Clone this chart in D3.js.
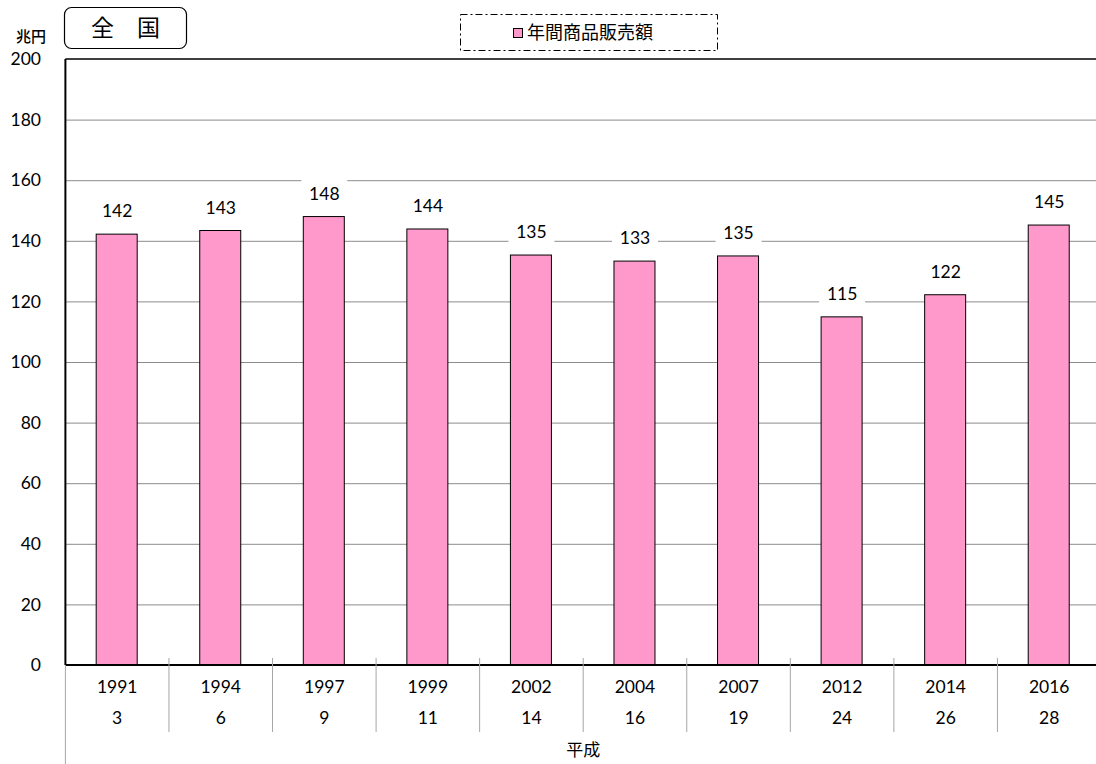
<!DOCTYPE html>
<html>
<head>
<meta charset="utf-8">
<title>年間商品販売額 全国</title>
<script src="https://cdn.jsdelivr.net/npm/d3@7"></script>
<style>
  body { margin: 0; background: #fff; }
  svg { display: block; }
  text { font-family: Lato, "Noto Sans", sans-serif; fill: #000; }
  .jp { font-family: "Noto Sans CJK JP", sans-serif; }
</style>
</head>
<body>
<script>
// data
const years = ["1991", "1994", "1997", "1999", "2002", "2004", "2007", "2012", "2014", "2016"];
const heisei = ["3", "6", "9", "11", "14", "16", "19", "24", "26", "28"];
const sales = [142.2, 143.4, 148.0, 143.9, 135.3, 133.3, 135.0, 114.9, 122.2, 145.2];
const yTicks = [0, 20, 40, 60, 80, 100, 120, 140, 160, 180, 200];

const width = 1096, height = 764;
const pLeft = 65.4, pRight = 1101, pTop = 59, pBottom = 665;
const numSize = 17.5;

const svg = d3.select("body").append("svg")
  .attr("width", width).attr("height", height);

const x = d3.scaleBand().domain(years).range([pLeft, pRight]);
const y = d3.scaleLinear().domain([0, 200]).range([pBottom, pTop]);

// gridlines
svg.append("g")
  .attr("transform", "translate(" + pLeft + ",0)")
  .call(d3.axisLeft(y).tickValues(yTicks.filter(d => d > 0 && d < 200)).tickSize(-(pRight - pLeft)).tickFormat(""))
  .call(g => g.select(".domain").remove())
  .call(g => g.selectAll("line").attr("stroke", "#8c8c8c").attr("stroke-width", 1));

// top border
svg.append("line")
  .attr("x1", pLeft).attr("x2", pRight).attr("y1", y(200)).attr("y2", y(200))
  .attr("stroke", "#000").attr("stroke-width", 1.5);

// y tick labels
svg.append("g")
  .selectAll("text").data(yTicks).enter().append("text")
  .attr("x", 41).attr("y", d => y(d)).attr("dy", "0.35em")
  .attr("text-anchor", "end").attr("font-size", numSize)
  .text(d => d);

svg.append("text").attr("class", "jp")
  .attr("x", 31).attr("y", 37).attr("dy", "0.35em").attr("text-anchor", "middle")
  .attr("font-size", 15).attr("font-weight", 500)
  .text("兆円");

// bars
const barW = 41;
svg.append("g").selectAll("rect").data(sales).enter().append("rect")
  .attr("x", (d, i) => x(years[i]) + x.bandwidth() / 2 - barW / 2 - 0.5)
  .attr("y", d => y(d))
  .attr("width", barW)
  .attr("height", d => y(0) - y(d))
  .attr("fill", "#ff99cc")
  .attr("stroke", "#000").attr("stroke-width", 1);

// data labels with white backgrounds
const lab = svg.append("g").selectAll("g").data(sales).enter().append("g")
  .attr("transform", (d, i) => "translate(" + (x(years[i]) + x.bandwidth() / 2) + "," + (y(d) - 23) + ")");
lab.append("rect")
  .attr("x", -23).attr("y", -15).attr("width", 46).attr("height", 27)
  .attr("fill", "#fff");
lab.append("text")
  .attr("text-anchor", "middle").attr("dy", "0.35em").attr("font-size", numSize)
  .text(d => Math.round(d));

// axes lines
svg.append("line")
  .attr("x1", pLeft).attr("x2", pRight).attr("y1", pBottom).attr("y2", pBottom)
  .attr("stroke", "#000").attr("stroke-width", 2);
svg.append("line")
  .attr("x1", pLeft).attr("x2", pLeft).attr("y1", pTop).attr("y2", pBottom)
  .attr("stroke", "#000").attr("stroke-width", 2);
svg.append("line")
  .attr("x1", pLeft).attr("x2", pLeft).attr("y1", pBottom).attr("y2", height)
  .attr("stroke", "#a6a6a6").attr("stroke-width", 1);

// category separators
svg.append("g").selectAll("line").data(years.slice(1)).enter().append("line")
  .attr("x1", d => x(d)).attr("x2", d => x(d))
  .attr("y1", pBottom - 7).attr("y2", 732)
  .attr("stroke", "#a6a6a6").attr("stroke-width", 1);

// x labels
svg.append("g").selectAll("text").data(years).enter().append("text")
  .attr("x", d => x(d) + x.bandwidth() / 2).attr("y", 687).attr("dy", "0.35em")
  .attr("text-anchor", "middle").attr("font-size", numSize)
  .text(d => d);
svg.append("g").selectAll("text").data(heisei).enter().append("text")
  .attr("x", (d, i) => x(years[i]) + x.bandwidth() / 2).attr("y", 718).attr("dy", "0.35em")
  .attr("text-anchor", "middle").attr("font-size", numSize)
  .text(d => d);
svg.append("text").attr("class", "jp")
  .attr("x", (pLeft + pRight) / 2).attr("y", 750).attr("dy", "0.35em")
  .attr("text-anchor", "middle").attr("font-size", 17)
  .text("平成");

// title box
svg.append("rect")
  .attr("x", 64.5).attr("y", 7.5).attr("width", 122).attr("height", 41).attr("rx", 7)
  .attr("fill", "#fff").attr("stroke", "#000").attr("stroke-width", 1.2);
svg.append("text").attr("class", "jp")
  .attr("x", 125.5).attr("y", 28).attr("dy", "0.35em")
  .attr("text-anchor", "middle").attr("font-size", 23).attr("font-weight", 400)
  .text("全　国");

// legend
svg.append("rect")
  .attr("x", 460.5).attr("y", 14.5).attr("width", 257).attr("height", 36)
  .attr("fill", "#fff").attr("stroke", "#000").attr("stroke-width", 1)
  .attr("stroke-dasharray", "7,3,2,3");
svg.append("rect")
  .attr("x", 513.5).attr("y", 28.5).attr("width", 9).attr("height", 9)
  .attr("fill", "#ff99cc").attr("stroke", "#000").attr("stroke-width", 1);
svg.append("text").attr("class", "jp")
  .attr("x", 527).attr("y", 33).attr("dy", "0.35em")
  .attr("font-size", 18)
  .text("年間商品販売額");
</script>
</body>
</html>
